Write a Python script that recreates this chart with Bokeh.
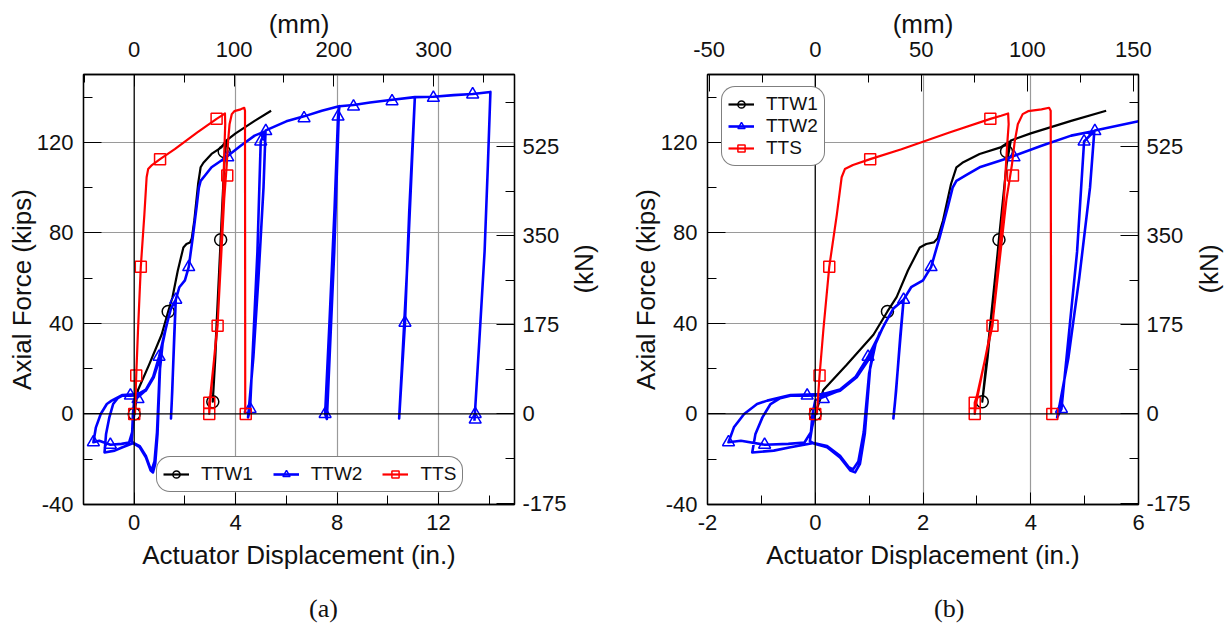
from bokeh.plotting import figure
from bokeh.models import Range1d, LinearAxis, FixedTicker, Span, Legend, LegendItem, Div
from bokeh.layouts import row, column
from bokeh.embed import file_html
from bokeh.resources import INLINE

KIP_TO_KN = 4.44822
IN_TO_MM = 25.4

# ---------------- data (inches, kips) ----------------
ttw1_x = [0.0, 0.15, 0.58, 1.08, 1.34, 1.51, 1.72, 1.94, 2.06, 2.2, 2.27, 2.37, 2.52, 2.62, 2.73,
          3.05, 3.44, 3.6, 3.56, 3.41, 3.25, 3.1, 3.2, 3.41, 3.55, 3.63, 4.0, 4.75, 5.4]
ttw1_y = [0.0, 10.6, 21.6, 35.0, 45.3, 51.6, 63.4, 73.6, 75.1, 75.8, 77.5, 85.4, 101.6, 109.0, 111.0,
          114.9, 117.8, 120.3, 112.0, 77.0, 40.0, 5.4, 25.0, 77.5, 110.0, 120.8, 124.0, 129.5, 134.0]
ttw1_mx = [0.0, 1.34, 3.41, 3.1, 3.55]
ttw1_my = [0.0, 45.3, 77.0, 5.4, 116.0]

ttw2_x = [0.0, -0.06, -0.1, -0.03, 0.22, 0.46, 0.65, 0.74, 0.83, 0.92, 1.02, 1.1, 1.2,
          1.02, 0.77, 0.46, 0.15, -0.15, -0.46, -0.65, -0.83, -0.98, -1.11, -1.17,
          -0.77, -0.46, -0.03, 0.22, 0.46, 0.62, 0.7, 0.8, 0.9, 1.0, 1.12, 1.25,
          1.0, 0.75, 0.46, 0.15, -0.15, -0.46, -0.89, -1.08, -1.32, -1.51, -1.61,
          -1.38, -0.94, -0.5, -0.2, -0.08, -0.05, 0.0, 0.15, 0.46, 0.77, 0.98, 1.29, 1.45, 1.64,
          1.55, 1.48, 1.45, 1.5, 1.58, 1.64, 1.78, 2.0, 2.15, 2.31, 2.46, 2.55, 2.62, 2.8, 3.05,
          3.57, 4.2, 4.75, 5.18, 5.1, 4.9, 4.7, 4.52, 4.49, 4.57, 4.86, 4.99, 5.19, 6.0, 6.7,
          7.4, 8.08, 7.89, 7.6, 7.53, 7.7, 7.9, 8.04, 8.1, 8.65, 9.3, 10.1, 11.07, 10.8, 10.45,
          10.68, 10.85, 11.07, 11.8, 12.6, 13.35, 14.05, 13.95, 13.82, 13.6, 13.42]
ttw2_y = [0.0, -6.0, -12.0, -13.0, -14.7, -19.2, -25.0, -25.8, -22.0, -8.8, 20.6, 30.0, 36.0,
          25.0, 16.2, 10.3, 8.3, 8.1, 8.1, 7.0, 4.4, -1.5, -8.8, -17.0,
          -16.2, -14.7, -12.8, -14.2, -18.5, -23.5, -24.5, -21.0, -8.0, 18.0, 31.0, 38.0,
          26.0, 16.5, 10.8, 8.8, 8.6, 8.4, 5.9, 4.4, 0.0, -5.9, -12.5,
          -11.8, -13.6, -13.2, -12.6, -8.0, 0.0, 6.0, 7.5, 10.5, 16.5, 25.3, 39.8, 46.6, 50.5,
          25.0, 5.0, -2.0, 10.0, 35.0, 50.5, 56.0, 59.0, 64.9, 78.1, 91.4, 100.0, 103.0, 105.5, 109.0,
          113.0, 118.5, 123.0, 125.0, 100.0, 60.0, 25.0, 2.0, -1.5, 2.2, 71.7, 120.4, 125.3, 129.3, 131.5,
          134.0, 136.0, 71.7, -2.2, 0.0, 40.0, 90.0, 131.4, 136.0, 136.5, 137.6, 138.7, 140.0, 71.7, -2.0,
          40.3, 90.0, 140.0, 140.2, 140.9, 141.4, 142.3, 110.0, 71.7, 30.0, -3.0]
ttw2_mx = [-1.61, -0.94, -0.15, 0.15, 0.98, 1.64, 2.15, 3.69, 4.57, 4.99, 5.19, 6.7, 8.04, 8.65,
           7.53, 10.17, 10.68, 11.8, 13.35, 13.45, 13.45]
ttw2_my = [-12.5, -13.6, 8.1, 6.6, 25.3, 50.5, 64.9, 113.4, 2.2, 120.4, 125.0, 130.7, 131.4, 135.8,
           0.0, 138.2, 40.3, 139.7, 141.2, 0.0, -2.5]

tts_x = [0.0, 0.03, 0.08, 0.15, 0.26, 0.4, 0.49, 0.55, 0.7, 1.02, 1.6, 2.49, 3.25, 3.45, 3.58,
         3.59, 3.56, 3.5, 3.29, 3.0, 2.96, 2.96, 2.99, 3.3, 3.55, 3.65, 3.7, 3.76, 3.85, 3.95, 4.2,
         4.34, 4.37, 4.38]
tts_y = [0.0, 0.0, 17.0, 37.0, 65.0, 88.0, 104.6, 108.2, 110.0, 112.6, 117.0, 124.4, 130.4, 131.8, 132.8,
         128.0, 118.0, 94.0, 39.0, 8.0, 5.0, 0.0, 5.0, 42.0, 95.0, 110.0, 120.0, 128.0, 132.5, 133.8, 134.6,
         135.3, 134.0, 0.0]
tts_mx = [0.0, 0.08, 0.26, 1.02, 3.25, 3.29, 2.96, 2.96, 3.67, 4.4]
tts_my = [0.0, 17.0, 65.0, 112.6, 130.4, 39.0, 5.0, 0.0, 105.4, 0.0]

kips_ticks = [-40, 0, 40, 80, 120]
kips_minor = [-20, 20, 60, 100, 140]
kn_ticks = [-175, 0, 175, 350, 525]
kn_minor = [-87.5, 87.5, 262.5, 437.5, 612.5]

a_in_ticks = [0, 4, 8, 12]
a_in_minor = [2, 6, 10, 14]
a_mm_ticks = [0, 100, 200, 300]
a_mm_minor = [-50, 50, 150, 250, 350]

b_in_ticks = [-2, 0, 2, 4, 6]
b_in_minor = [-1, 1, 3, 5]
b_mm_ticks = [-50, 0, 50, 100, 150]
b_mm_minor = [-25, 25, 75, 125]

captions = ["(a)", "(b)"]
kn_label = "(kN)"

BLACK = "#000000"
BLUE = "#0000ff"
RED = "#ff0000"
FONT = "Liberation Sans"
TXT = "#111111"
FRAME_W = 431
FIG_H = 588


def hyphen_labels(ticks):
    return {t: ("%g" % t) for t in ticks if t < 0}


def style_axis(ax, major_in, minor_in, standoff, label_standoff, ticks):
    ax.major_tick_in = major_in
    ax.major_tick_out = 0
    ax.minor_tick_in = minor_in
    ax.minor_tick_out = 0
    ax.major_tick_line_color = "black"
    ax.minor_tick_line_color = "black"
    ax.axis_line_color = "black"
    ax.axis_line_width = 1.3
    ax.major_label_text_font = FONT
    ax.major_label_text_font_size = "22px"
    ax.major_label_text_color = TXT
    ax.major_label_standoff = standoff
    ax.major_label_overrides = hyphen_labels(ticks)
    ax.axis_label_text_font = FONT
    ax.axis_label_text_font_size = "26px"
    ax.axis_label_text_font_style = "normal"
    ax.axis_label_text_color = TXT
    ax.axis_label_standoff = label_standoff


def make_panel(xmin, xmax, in_t, in_m, mm_t, mm_m, gridx, bl, br, legend_loc, orient, top_major):
    width = bl + FRAME_W + br
    p = figure(width=width, height=FIG_H, x_range=Range1d(xmin, xmax), y_range=Range1d(-40, 150),
               output_backend="svg", toolbar_location=None,
               min_border_left=bl, min_border_right=br, min_border_top=74,
               min_border_bottom=FIG_H - 74 - 430)
    p.extra_x_ranges = {"mm": Range1d(xmin * IN_TO_MM, xmax * IN_TO_MM)}
    p.extra_y_ranges = {"kN": Range1d(-40 * KIP_TO_KN, 150 * KIP_TO_KN)}
    p.outline_line_color = "black"
    p.outline_line_width = 1.3
    p.background_fill_color = "white"
    p.border_fill_color = "white"

    p.xaxis.ticker = FixedTicker(ticks=in_t, minor_ticks=in_m)
    p.yaxis.ticker = FixedTicker(ticks=kips_ticks, minor_ticks=kips_minor)
    p.xaxis.axis_label = "Actuator Displacement (in.)"
    p.yaxis.axis_label = "Axial Force (kips)"
    for ax in p.xaxis:
        style_axis(ax, 12, 9, 10, 7, in_t)
    for ax in p.yaxis:
        style_axis(ax, 18, 9, 10, -3, kips_ticks)

    top = LinearAxis(x_range_name="mm", axis_label="(mm)",
                     ticker=FixedTicker(ticks=mm_t, minor_ticks=mm_m))
    style_axis(top, top_major, 8, 18, 0, mm_t)
    p.add_layout(top, "above")
    right = LinearAxis(y_range_name="kN",
                       ticker=FixedTicker(ticks=kn_ticks, minor_ticks=kn_minor))
    style_axis(right, 18, 9, 8, 0, kn_ticks)
    p.add_layout(right, "right")

    p.xgrid.ticker = FixedTicker(ticks=gridx)
    p.ygrid.ticker = FixedTicker(ticks=[40, 80, 120])
    p.xgrid.grid_line_color = "#9a9a9a"
    p.ygrid.grid_line_color = "#9a9a9a"
    p.xgrid.grid_line_width = 1.2
    p.ygrid.grid_line_width = 1.2
    p.add_layout(Span(location=0, dimension="height", line_color="black", line_width=1.3))
    p.add_layout(Span(location=0, dimension="width", line_color="black", line_width=1.3))

    items = []
    for lx, ly, mx, my, col, mk, sz, lw, name in [
        (ttw1_x, ttw1_y, ttw1_mx, ttw1_my, BLACK, "circle", 12, 2.2, "TTW1"),
        (ttw2_x, ttw2_y, ttw2_mx, ttw2_my, BLUE, "triangle", 12, 2.6, "TTW2"),
        (tts_x, tts_y, tts_mx, tts_my, RED, "square", 11, 2.2, "TTS"),
    ]:
        lr = p.line(lx, ly, line_color=col, line_width=lw, line_join="round")
        sr = p.scatter(mx, my, marker=mk, size=sz, line_color=col, fill_color=None, line_width=1.5)
        items.append(LegendItem(label=name, renderers=[lr, sr]))

    leg = Legend(items=items, orientation=orient, location=legend_loc)
    leg.border_line_color = "black"
    leg.border_line_width = 1
    leg.background_fill_color = "white"
    leg.background_fill_alpha = 1
    leg.label_text_font = FONT
    leg.label_text_font_size = "19px"
    leg.label_text_color = TXT
    leg.glyph_width = 26
    leg.glyph_height = 18
    leg.label_standoff = 12
    leg.spacing = 20 if orient == "horizontal" else 0
    leg.padding = 6
    leg.margin = 0
    try:
        leg.border_radius = 14
    except Exception:
        pass
    p.add_layout(leg)
    return p


def kn_div(width, cx, cy):
    html = ('<div style="position:relative; width:%dpx; height:%dpx;">'
            '<div style="position:absolute; left:%dpx; top:%dpx; '
            'transform:translate(-50%%,-50%%) rotate(-90deg); font-family:\'Liberation Sans\'; '
            'font-size:26px; line-height:30px; color:#111111; white-space:nowrap;">%s</div></div>'
            % (width, FIG_H, cx, cy, kn_label))
    return Div(text=html, width=width, height=FIG_H, margin=(0, 0, 0, 0))


def caption_div(text, width, pad_left):
    html = ('<div style="padding-left:%dpx; padding-top:6px; font-family:\'Liberation Serif\'; '
            'font-size:26px; line-height:30px; color:#111111; white-space:nowrap;">%s</div>'
            % (pad_left, text))
    return Div(text=html, width=width, height=36, margin=(0, 0, 0, 0))


L1, R1, K1 = 83, 56, 40
L2, R2, K2 = 97, 56, 30
p1 = make_panel(-2, 15, a_in_ticks, a_in_minor, a_mm_ticks, a_mm_minor, [4, 8, 12],
                L1, R1, (73, 12), "horizontal", 12)
p2 = make_panel(-2, 6, b_in_ticks, b_in_minor, b_mm_ticks, b_mm_minor, [2, 4],
                L2, R2, (14, 338), "vertical", 17)
k1 = kn_div(K1, 14, 269)
k2 = kn_div(K2, 15, 269)

W1 = L1 + FRAME_W + R1
W2 = L2 + FRAME_W + R2
d1 = caption_div(captions[0], W1 + K1, L1 + 240 - 14)
d2 = caption_div(captions[1], W2 + K2, L2 + 241 - 14)

layout = column(row(p1, k1, p2, k2), row(d1, d2))
open("out.html", "w").write(file_html(layout, INLINE))
